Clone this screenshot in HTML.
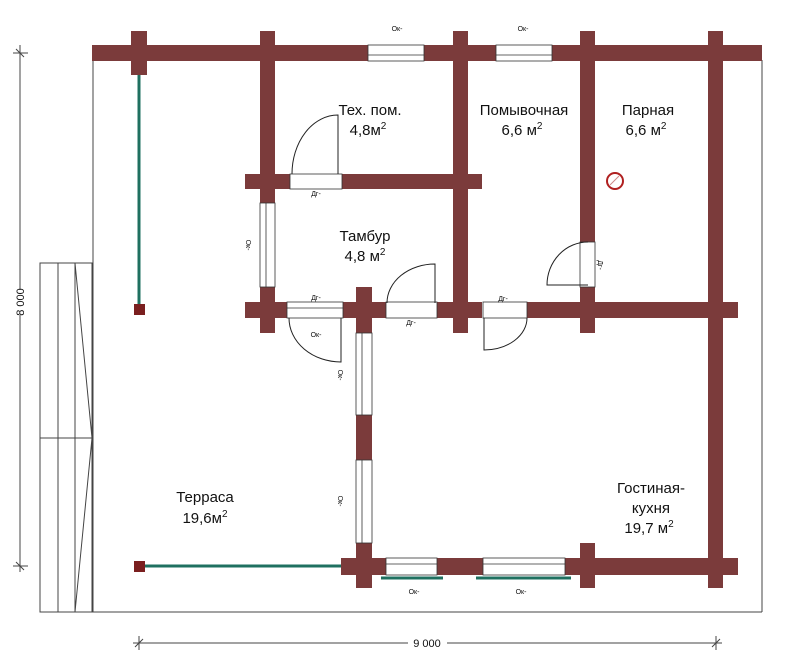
<!DOCTYPE html>
<html><head><meta charset="utf-8"><style>
html,body{margin:0;padding:0;background:#fff;}
svg{display:block;}
text{font-family:"Liberation Sans",sans-serif;fill:#111;}
.s{font-size:7px;fill:#333;}
.r{font-size:15px;}
</style></head><body>
<svg width="800" height="654" viewBox="0 0 800 654" xmlns="http://www.w3.org/2000/svg">
<g fill="none" stroke="#444" stroke-width="1">
<!-- terrace outline -->
<line x1="93" y1="60" x2="93" y2="612"/>
<line x1="40" y1="612" x2="762" y2="612"/>
<line x1="762" y1="60" x2="762" y2="612"/>
<!-- stairs -->
<rect x="40" y="263" width="52" height="349"/>
<line x1="58" y1="263" x2="58" y2="612"/>
<line x1="75" y1="263" x2="75" y2="612"/>
<line x1="40" y1="438" x2="92" y2="438"/>
<polyline points="75,263 92,438 75,612"/>
<!-- dims -->
<line x1="20" y1="45" x2="20" y2="290"/>
<line x1="20" y1="315" x2="20" y2="572"/>
<line x1="13" y1="53" x2="28" y2="53"/><line x1="16" y1="49" x2="24" y2="57"/>
<line x1="13" y1="566" x2="28" y2="566"/><line x1="16" y1="562" x2="24" y2="570"/>
<line x1="133" y1="643" x2="408" y2="643"/>
<line x1="447" y1="643" x2="722" y2="643"/>
<line x1="139" y1="636" x2="139" y2="650"/><line x1="135" y1="647" x2="143" y2="639"/>
<line x1="716" y1="636" x2="716" y2="650"/><line x1="712" y1="647" x2="720" y2="639"/>
</g>
<!-- railings -->
<g stroke="#1f7060" stroke-width="3">
<line x1="139" y1="62" x2="139" y2="305"/>
<line x1="145" y1="566" x2="342" y2="566"/>
<line x1="381" y1="578" x2="443" y2="578"/>
<line x1="476" y1="578" x2="571" y2="578"/>
</g>
<rect x="134" y="304" width="11" height="11" fill="#7a1f1f"/>
<rect x="134" y="561" width="11" height="11" fill="#7a1f1f"/>
<!-- walls -->
<g fill="#7b3b3b">
<rect x="92" y="45" width="670" height="16"/>
<rect x="131" y="31" width="16" height="44"/>
<rect x="260" y="31" width="15" height="302"/>
<rect x="453" y="31" width="15" height="302"/>
<rect x="580" y="31" width="15" height="211"/>
<rect x="580" y="287" width="15" height="46"/>
<rect x="708" y="31" width="15" height="557"/>
<rect x="245" y="174" width="45" height="15"/>
<rect x="342" y="174" width="140" height="15"/>
<rect x="245" y="302" width="42" height="16"/>
<rect x="343" y="302" width="43" height="16"/>
<rect x="437" y="302" width="45" height="16"/>
<rect x="527" y="302" width="211" height="16"/>
<rect x="356" y="287" width="16" height="46"/>
<rect x="356" y="415" width="16" height="45"/>
<rect x="356" y="543" width="16" height="45"/>
<rect x="341" y="558" width="397" height="17"/>
<rect x="580" y="543" width="15" height="45"/>
</g>
<!-- windows -->
<g fill="#fff" stroke="#333" stroke-width="0.8">
<rect x="368" y="45" width="56" height="16"/><line x1="368" y1="55" x2="424" y2="55"/>
<rect x="496" y="45" width="56" height="16"/><line x1="496" y1="55" x2="552" y2="55"/>
<rect x="260" y="203" width="15" height="84"/><line x1="266" y1="203" x2="266" y2="287"/>
<rect x="356" y="333" width="16" height="82"/><line x1="362" y1="333" x2="362" y2="415"/>
<rect x="356" y="460" width="16" height="83"/><line x1="362" y1="460" x2="362" y2="543"/>
<rect x="386" y="558" width="51" height="17"/><line x1="386" y1="564" x2="437" y2="564"/>
<rect x="483" y="558" width="82" height="17"/><line x1="483" y1="564" x2="565" y2="564"/>
<!-- doors frames -->
<rect x="290" y="174" width="52" height="15"/>
<rect x="287" y="302" width="56" height="16"/><line x1="287" y1="308" x2="343" y2="308"/>
<rect x="386" y="302" width="51" height="16"/>
<rect x="483" y="302" width="44" height="16"/>
<rect x="580" y="242" width="15" height="45"/>
</g>
<!-- door swings -->
<g fill="none" stroke="#222" stroke-width="1">
<path d="M338,174 L338,115 A46,59 0 0 0 292,174"/>
<path d="M435,303 L435,264 A48,39 0 0 0 387,303"/>
<path d="M341,318 L341,362 A52,44 0 0 1 289,318"/>
<path d="M484,318 L484,350 A43,32 0 0 0 527,318"/>
<path d="M588,285 L547,285 A41,43 0 0 1 588,242"/>
</g>
<!-- smoke -->
<circle cx="615" cy="181" r="8" fill="#fff" stroke="#b02020" stroke-width="2"/>
<line x1="610" y1="185" x2="619" y2="176" stroke="#c88" stroke-width="1"/>
<!-- room labels -->
<g class="r" text-anchor="middle">
<text x="370" y="115">Тех. пом.</text>
<text x="368" y="135">4,8м<tspan font-size="10" dy="-6">2</tspan></text>
<text x="524" y="115">Помывочная</text>
<text x="522" y="135">6,6 м<tspan font-size="10" dy="-6">2</tspan></text>
<text x="648" y="115">Парная</text>
<text x="646" y="135">6,6 м<tspan font-size="10" dy="-6">2</tspan></text>
<text x="365" y="241">Тамбур</text>
<text x="365" y="261">4,8 м<tspan font-size="10" dy="-6">2</tspan></text>
<text x="205" y="502">Терраса</text>
<text x="205" y="523">19,6м<tspan font-size="10" dy="-6">2</tspan></text>
<text x="651" y="493">Гостиная-</text>
<text x="651" y="513">кухня</text>
<text x="649" y="533">19,7 м<tspan font-size="10" dy="-6">2</tspan></text>
</g>
<!-- small labels -->
<g class="s" text-anchor="middle">
<text x="397" y="31">Ок-</text>
<text x="523" y="31">Ок-</text>
<text x="414" y="594">Ок-</text>
<text x="521" y="594">Ок-</text>
<text x="316" y="196">Дг-</text>
<text x="316" y="300">Дг-</text>
<text x="411" y="325">Дг-</text>
<text x="503" y="301">Дг-</text>
<text x="316" y="337">Ок-</text>
<text transform="translate(246,245) rotate(90)">Ок-</text>
<text transform="translate(338,375) rotate(90)">Ок-</text>
<text transform="translate(338,501) rotate(90)">Ок-</text>
<text transform="translate(598,265) rotate(90)">Дг-</text>
</g>
<text x="427" y="647" font-size="11" text-anchor="middle">9 000</text>
<text transform="translate(24,302) rotate(-90)" font-size="11" text-anchor="middle">8 000</text>
</svg>
</body></html>
